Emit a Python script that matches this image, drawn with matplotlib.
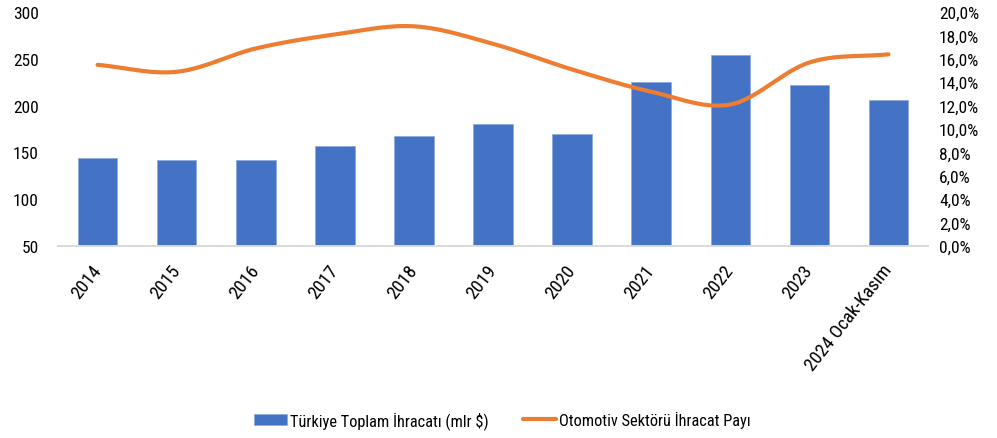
import numpy as np
import matplotlib.pyplot as plt

years = ["2014", "2015", "2016", "2017", "2018", "2019", "2020",
         "2021", "2022", "2023", "2024 Ocak-Kasım"]
exports = [143.5, 141.8, 141.8, 156.5, 167.8, 180.3, 169.3, 225.0, 254.3, 221.8, 205.7]
auto_share = [15.5, 14.9, 16.9, 18.1, 18.8, 17.3, 15.1, 13.2, 12.1, 15.7, 16.4]

left_ticks = [50, 100, 150, 200, 250, 300]
right_ticks = np.arange(0, 21, 2)

plt.rcParams['font.family'] = ['Roboto Condensed', 'Roboto', 'DejaVu Sans']


def smooth(x, y, n=30):
    # catmull-rom curve, close to excel's smoothed line
    x = np.asarray(x, float)
    y = np.asarray(y, float)
    px = np.concatenate([[2 * x[0] - x[1]], x, [2 * x[-1] - x[-2]]])
    py = np.concatenate([[2 * y[0] - y[1]], y, [2 * y[-1] - y[-2]]])
    t = np.linspace(0, 1, n)

    def seg(p0, p1, p2, p3):
        return 0.5 * ((2 * p1) + (-p0 + p2) * t + (2 * p0 - 5 * p1 + 4 * p2 - p3) * t ** 2
                      + (-p0 + 3 * p1 - 3 * p2 + p3) * t ** 3)

    xs, ys = [], []
    for i in range(1, len(px) - 2):
        xs.append(seg(*px[i - 1:i + 3]))
        ys.append(seg(*py[i - 1:i + 3]))
    return np.concatenate(xs), np.concatenate(ys)


fig = plt.figure(figsize=(9.97, 4.39), dpi=100)
ax = fig.add_axes([58 / 997, 1 - 246.7 / 439, 870 / 997, 233.4 / 439])
ax2 = ax.twinx()

x = np.arange(len(years))
bars = ax.bar(x, exports, width=0.5, color='#4472C4', edgecolor='#8faadc', linewidth=0.6,
              label='Türkiye Toplam İhracatı (mlr $)', zorder=2)
sx, sy = smooth(x, auto_share)
line, = ax2.plot(sx, sy, color='#ED7D31', linewidth=3.0, solid_capstyle='round',
                 label='Otomotiv Sektörü İhracat Payı')

ax.set_xlim(-0.5, len(years) - 0.5)
ax.set_ylim(50, 300)
ax.set_yticks(left_ticks)
ax2.set_ylim(0, 20)
ax2.set_yticks(right_ticks)
ax2.set_yticklabels([f"{v:.1f}%".replace('.', ',') for v in right_ticks])

ax.set_xticks(x)
ax.set_xticklabels(years, rotation=52, ha='right', va='center', rotation_mode='anchor')

for a in (ax, ax2):
    for s in ('top', 'left', 'right'):
        a.spines[s].set_visible(False)
    a.spines['bottom'].set_color('#d9d9d9')
    a.spines['bottom'].set_linewidth(1.2)
    a.tick_params(length=0, labelsize=12.5, colors='#000000')
ax.tick_params(axis='x', labelsize=13.5, pad=15)
ax.tick_params(axis='y', pad=14)
ax2.tick_params(axis='y', pad=8)

fig.legend([bars, line], [bars.get_label(), line.get_label()], loc='center',
           bbox_to_anchor=(0.504, 1 - 421 / 439), ncol=2, frameon=False,
           fontsize=11.8, handlelength=2.0, columnspacing=2.1, handletextpad=0.2)

fig.savefig('out.png', dpi=100)
